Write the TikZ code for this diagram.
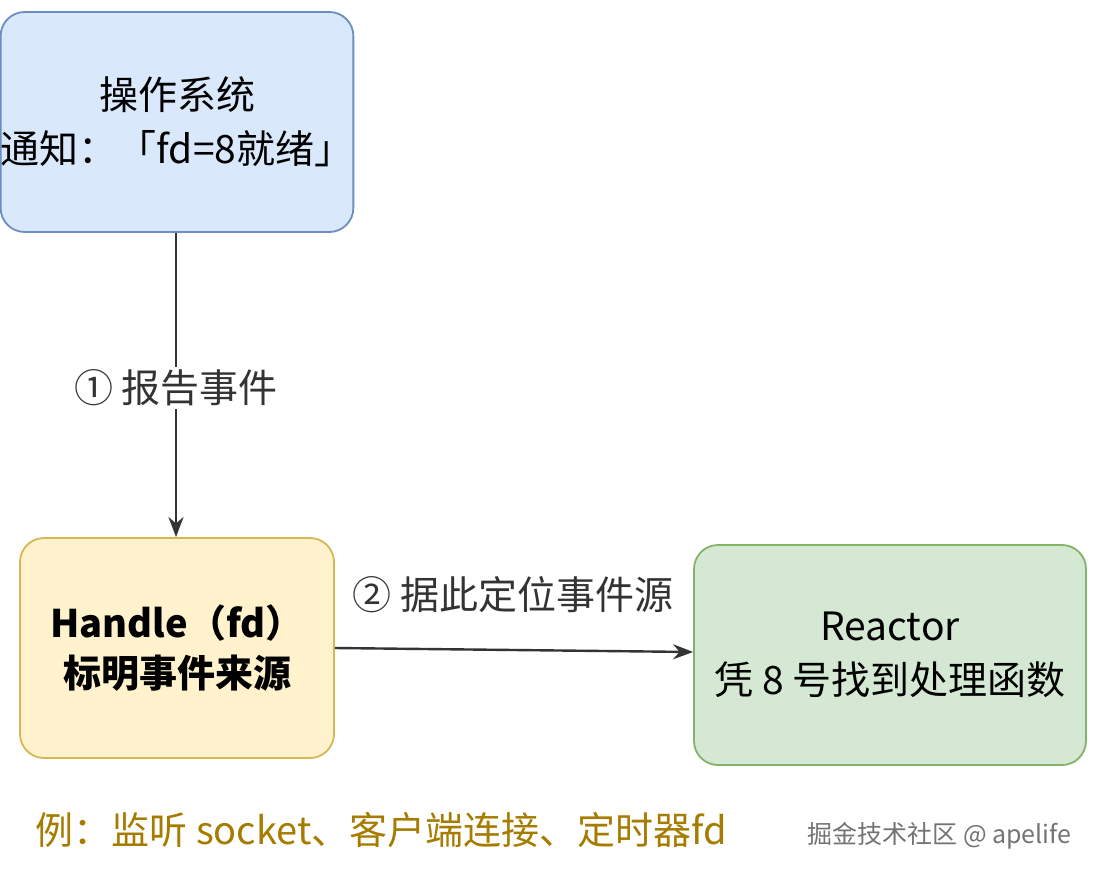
\documentclass[tikz,border=0pt]{standalone}
\usepackage{fontspec}
\setmainfont{Noto Sans CJK SC}
\usetikzlibrary{arrows.meta}
\begin{document}
\begin{tikzpicture}[x=1pt,y=-1pt,
 box/.style={draw,rounded corners=24pt,line width=1.8pt,minimum width=#1,minimum height=220pt,align=center,inner sep=0pt},
 arr/.style={draw=black!80,line width=2.4pt,-{Stealth[length=20pt,width=15pt]}},
 lbl/.style={fill=white,font=\fontsize{39}{44}\selectfont,text=black!80,inner sep=3pt}]
\useasboundingbox (0,0) rectangle (1098,878);
\definecolor{bfill}{HTML}{DAE8FC}\definecolor{bdraw}{HTML}{6C8EBF}
\definecolor{yfill}{HTML}{FFF2CC}\definecolor{ydraw}{HTML}{D6B656}
\definecolor{gfill}{HTML}{D5E8D4}\definecolor{gdraw}{HTML}{82B366}
\definecolor{note}{HTML}{A67C00}
\node[box=330pt,fill=bfill,draw=bdraw,font=\fontsize{39}{54}\selectfont] (os) at (177,122) {操作系统\\通知：「fd=8就绪」};
\node[box=314pt,fill=yfill,draw=ydraw,font=\bfseries\fontsize{38}{50}\selectfont] (h) at (177,648) {Handle（fd）\\标明事件来源};
\node[box=392pt,fill=gfill,draw=gdraw,font=\fontsize{39}{54}\selectfont] (r) at (890,655) {Reactor\\凭 8 号找到处理函数};
\draw[arr] (os.south -| 176,0) -- (176,537) node[pos=0.51,lbl] {① 报告事件};
\draw[arr] (h.east |- 0,648) -- (r.west |- 0,652);
\node[lbl,fill=none] (l2) at (513,595) {② 据此定位事件源};
\node[text=note,font=\fontsize{38}{44}\selectfont,anchor=west] (n) at (32,830) {例：监听 socket、客户端连接、定时器fd};
\node[text=black!55,font=\fontsize{25}{30}\selectfont,anchor=east] (w) at (1075,836) {掘金技术社区 @ apelife};
\end{tikzpicture}
\end{document}
